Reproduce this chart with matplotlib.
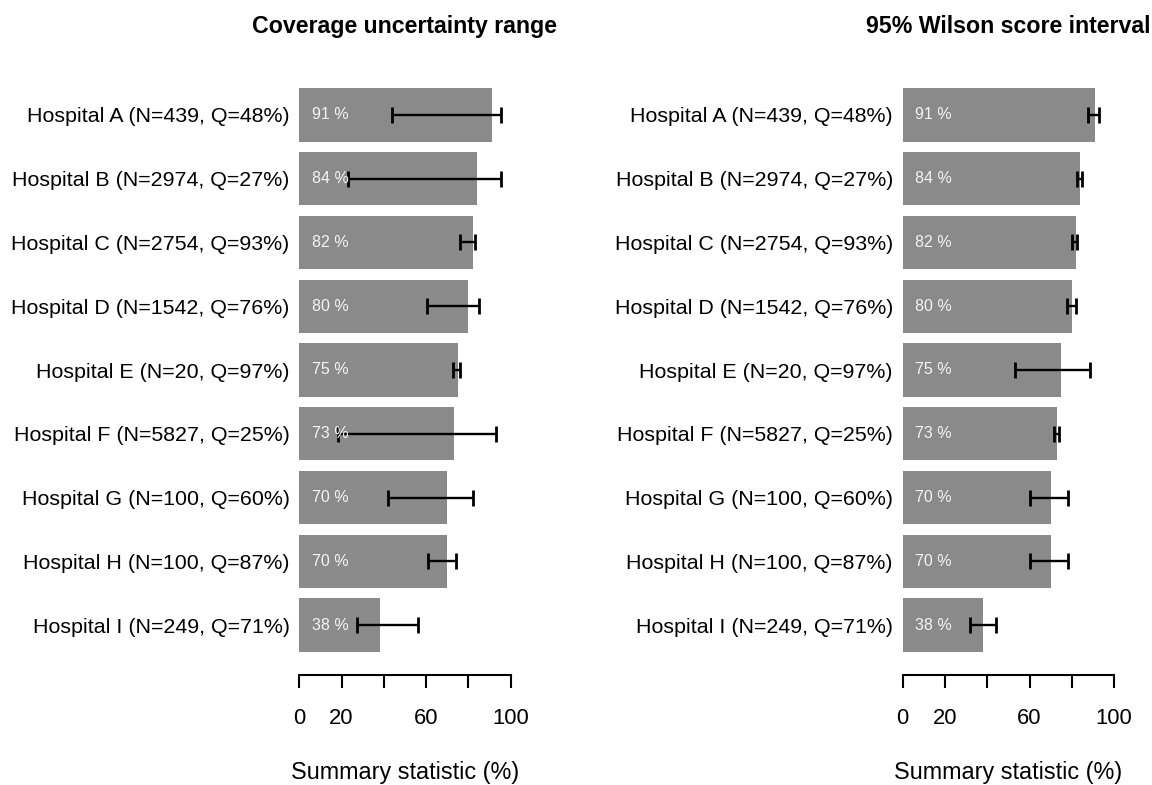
import numpy as np
import matplotlib
matplotlib.use('Agg')
import matplotlib.pyplot as plt

plt.rcParams['font.family'] = ['Liberation Sans', 'DejaVu Sans']

hospitals = ['Hospital A (N=439, Q=48%)', 'Hospital B (N=2974, Q=27%)',
             'Hospital C (N=2754, Q=93%)', 'Hospital D (N=1542, Q=76%)',
             'Hospital E (N=20, Q=97%)', 'Hospital F (N=5827, Q=25%)',
             'Hospital G (N=100, Q=60%)', 'Hospital H (N=100, Q=87%)',
             'Hospital I (N=249, Q=71%)']
coverage = [91, 84, 82, 80, 75, 73, 70, 70, 38]

# coverage uncertainty range (left panel)
unc_lo = [43.7, 23.0, 76.2, 60.6, 72.6, 18.5, 42.1, 61.0, 27.3]
unc_hi = [95.6, 95.6, 83.3, 84.9, 76.0, 93.2, 82.0, 74.0, 56.2]

# 95% wilson score interval (right panel)
wil_lo = [87.7, 82.5, 80.3, 77.6, 52.9, 71.5, 60.2, 60.2, 32.0]
wil_hi = [92.9, 84.7, 82.6, 82.1, 88.8, 73.8, 78.0, 78.0, 43.9]

ticks = [0, 20, 40, 60, 80, 100]
tick_labels = ['0', '20', '', '60', '', '100']

W, H = 1152, 785
fig = plt.figure(figsize=(W / 100, H / 100), dpi=100)


def panel(left_px, title, lo, hi):
    ax = fig.add_axes([left_px / W, 1 - 675 / H, 211.4 / W, 610 / H])
    pos = np.arange(len(hospitals))
    cov = np.array(coverage, dtype=float)
    ax.barh(pos, cov, height=1 / 1.2, color='#8a8a8a', edgecolor='none')
    for p, c in zip(pos, coverage):
        ax.text(6, p, f'{c} %', color='#f4f4f4', fontsize=11.5, ha='left', va='center')
    err = [cov - np.array(lo), np.array(hi) - cov]
    ax.errorbar(cov, pos, xerr=err, fmt='none', ecolor='black',
                elinewidth=1.7, capsize=5.8, capthick=2.0)
    ax.set_xlim(0, 100)
    ax.set_ylim(8.784, -0.784)
    ax.set_yticks(pos)
    ax.set_yticklabels(hospitals, fontsize=15.4)
    ax.tick_params(axis='y', length=0, pad=7)
    ax.set_xticks(ticks)
    ax.set_xticklabels(tick_labels, fontsize=15.8)
    ax.tick_params(axis='x', length=9.4, width=1.5, pad=14, direction='out')
    for s in ['top', 'right', 'left']:
        ax.spines[s].set_visible(False)
    ax.spines['bottom'].set_linewidth(1.5)
    ax.spines['bottom'].set_bounds(0, 100)
    cx = (left_px + 211.4 / 2) / W
    fig.text(cx, 1 - 33 / H, title, fontsize=16.7, fontweight='bold',
             ha='center', va='baseline')
    fig.text(cx, 1 - 779 / H, 'Summary statistic (%)', fontsize=16.8,
             ha='center', va='baseline')
    return ax


panel(299.3, 'Coverage uncertainty range', unc_lo, unc_hi)
panel(902.7, '95% Wilson score interval', wil_lo, wil_hi)

fig.savefig('out.png', dpi=100)
